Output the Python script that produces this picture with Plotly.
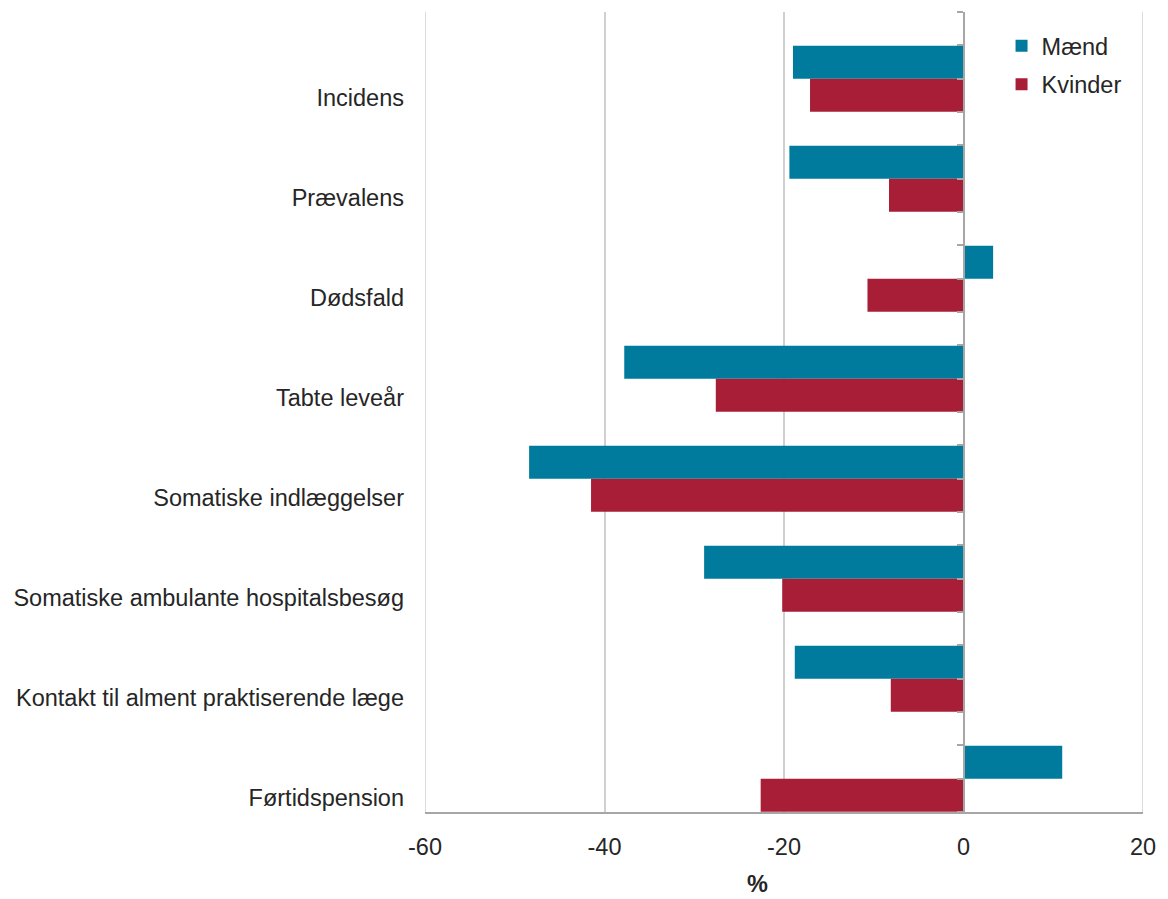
import plotly.graph_objects as go

categories = ["Incidens", "Prævalens", "Dødsfald", "Tabte leveår",
              "Somatiske indlæggelser", "Somatiske ambulante hospitalsbesøg",
              "Kontakt til alment praktiserende læge", "Førtidspension"]
maend = [-19.0, -19.4, 3.3, -37.8, -48.4, -28.9, -18.8, 11.0]
kvinder = [-17.1, -8.3, -10.7, -27.6, -41.5, -20.2, -8.1, -22.6]
x_ticks = [-60, -40, -20, 0, 20]
x_tick_text = ["-60", "-40", "-20", "0", "20"]

pos = list(range(len(categories)))
FONT = "Liberation Sans, Arial, sans-serif"
TXT = "#262626"
FS = 23.5
GRID = "#D0D0D0"

fig = go.Figure()
fig.add_trace(go.Bar(y=pos, x=maend, orientation="h", name="Mænd",
                     marker=dict(color="#007B9D", line=dict(width=0)),
                     legendgroup="m"))
fig.add_trace(go.Bar(y=pos, x=kvinder, orientation="h", name="Kvinder",
                     marker=dict(color="#A81E36", line=dict(width=0)),
                     legendgroup="k"))
# invisible trace to carry the label axis
fig.add_trace(go.Scatter(x=[None], y=[None], yaxis="y2", showlegend=False,
                         hoverinfo="skip"))

# gridlines at the two ends of the value axis (plotly omits them at the edges)
for xv in (x_ticks[0], x_ticks[-1]):
    fig.add_shape(type="line", xref="x", yref="paper", x0=xv, x1=xv, y0=0, y1=1,
                  line=dict(color=GRID, width=1.5), layer="below")

yr = [len(categories) - 1 + 1/3, -2/3]
# page body has an 8px margin, so the figure is shrunk by 8px and margins shifted
fig.update_layout(
    width=1160, height=891,
    margin=dict(l=417, r=25, t=4, b=87, autoexpand=False),
    paper_bgcolor="white", plot_bgcolor="white",
    barmode="group", bargap=0.34, bargroupgap=0,
    font=dict(family=FONT, size=FS, color=TXT),
    xaxis=dict(range=[-60, 20], tickvals=x_ticks, ticktext=x_tick_text,
               showgrid=True, gridcolor=GRID, gridwidth=1.5, zeroline=False,
               showline=True, linecolor="#A6A6A6", linewidth=2,
               ticks="", ticklabelstandoff=13,
               tickfont=dict(size=FS, color=TXT)),
    yaxis=dict(range=yr, anchor="free", position=0.75, side="left",
               showgrid=False, zeroline=False, showline=True,
               linecolor="#A6A6A6", linewidth=2,
               ticks="outside", ticklen=6, tickcolor="#A6A6A6", tickwidth=1.5,
               tick0=0, dtick=1/3, showticklabels=False),
    yaxis2=dict(range=yr, overlaying="y", anchor="x", side="left",
                showgrid=False, zeroline=False, showline=False, ticks="",
                tickvals=[p + 0.19 for p in pos], ticktext=categories,
                ticklabelstandoff=20, tickfont=dict(size=FS, color=TXT)),
    legend=dict(x=0.803, y=0.985, xanchor="left", yanchor="top",
                bgcolor="rgba(0,0,0,0)", font=dict(size=FS, color=TXT),
                traceorder="grouped", tracegroupgap=5),
    annotations=[dict(text="<b>%</b>", xref="paper", yref="paper",
                      x=0.4624, y=0, xanchor="center", yanchor="middle",
                      yshift=-72, showarrow=False, borderpad=0,
                      font=dict(size=FS, color=TXT))],
    showlegend=True,
)

fig.write_html("out.html")
